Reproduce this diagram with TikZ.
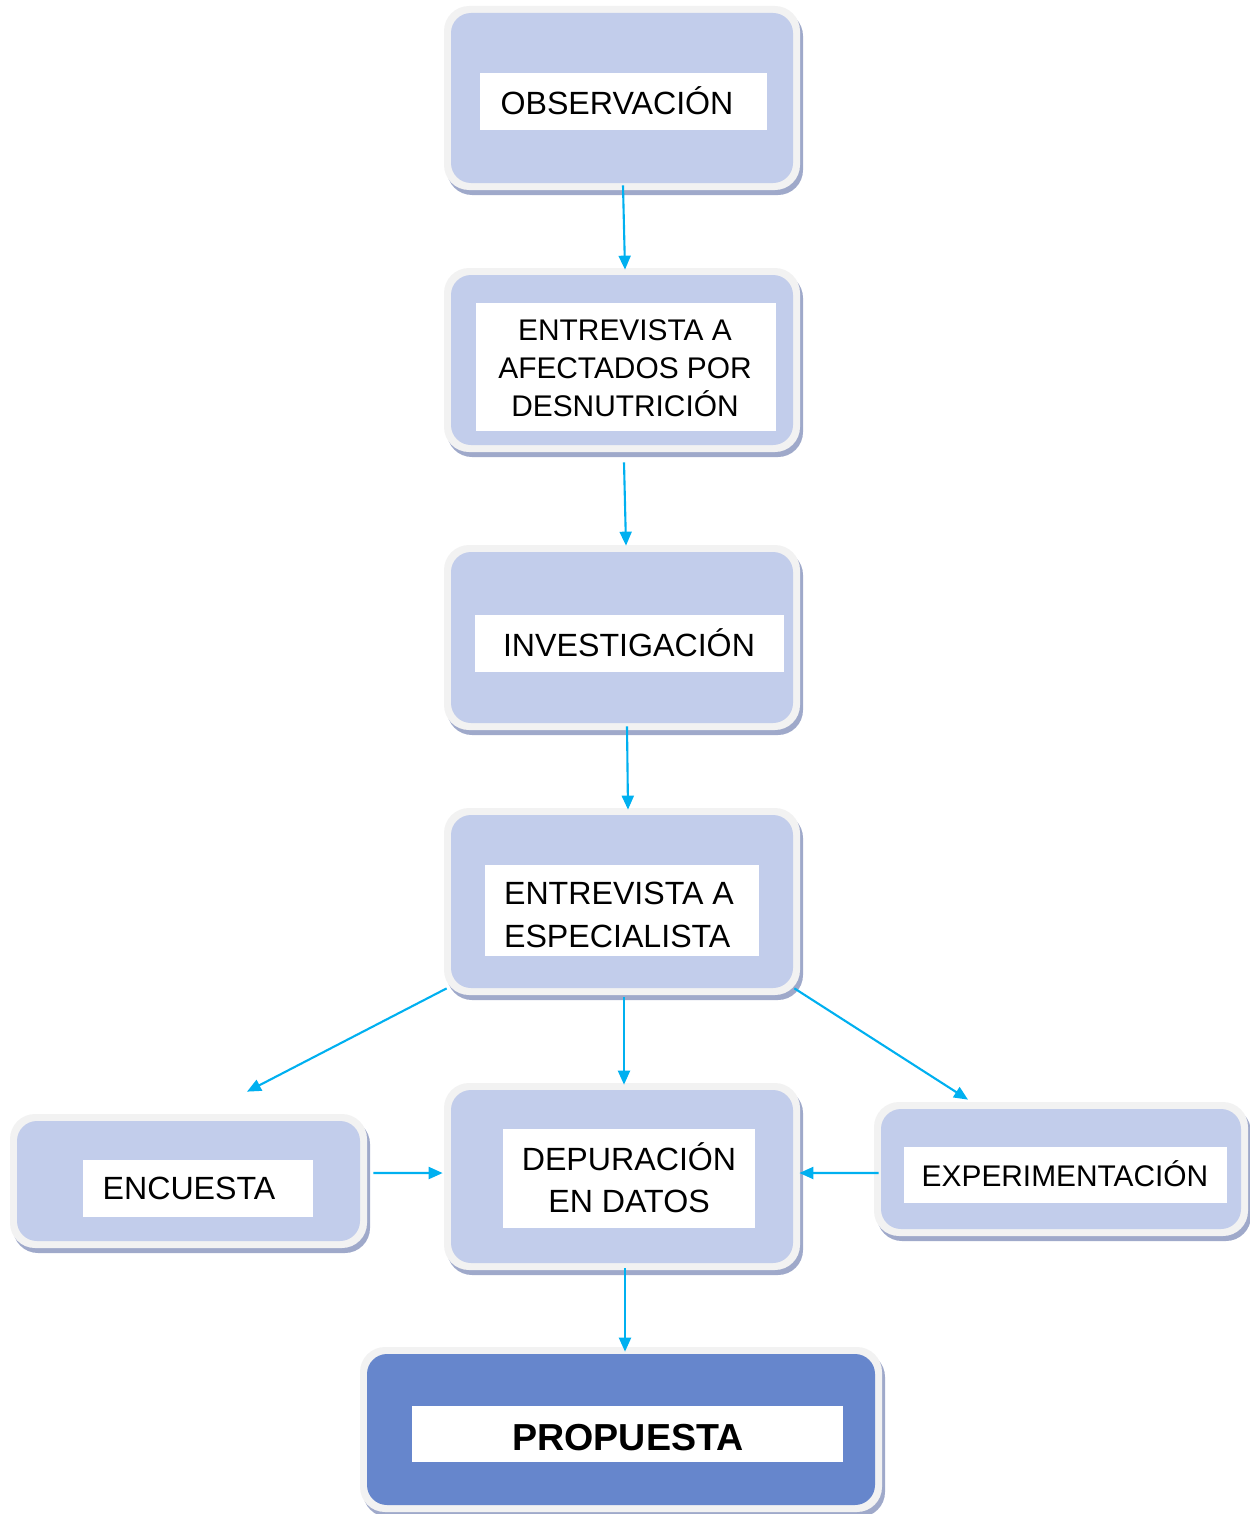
\documentclass[tikz,border=0pt]{standalone}
\usepackage{fontspec}
\setmainfont{Liberation Sans}
\usetikzlibrary{fit,arrows.meta}
\definecolor{innerc}{HTML}{C2CDEB}
\definecolor{outerc}{HTML}{F2F2F2}
\definecolor{shadowc}{HTML}{9FA9CA}
\definecolor{darkc}{HTML}{6686CC}
\definecolor{arrc}{HTML}{00B0F0}
\tikzset{
  arr/.style={draw=arrc, line width=1.2pt, -{Triangle[length=0.28cm,width=0.24cm]}},
  whitebox/.style={fill=white, inner sep=0pt},
  lbl/.style={font=\fontsize{18.3}{22}\selectfont, inner sep=0pt, align=center},
}
\newcommand{\mybox}[6]{%
  \fill[shadowc, rounded corners=0.5cm] (#2+3,#3+5) rectangle (#4+3,#5+5);
  \fill[outerc, rounded corners=0.5cm] (#2,#3) rectangle (#4,#5);
  \fill[#6, rounded corners=0.4cm] (#2+7,#3+7) rectangle (#4-7,#5-7);
  \node[fit={(#2,#3) (#4,#5)}, inner sep=0pt] (#1) {};
}
\begin{document}
\begin{tikzpicture}[x=0.02cm,y=-0.02cm]
\useasboundingbox (0,0) rectangle (1249,1514);
% boxes
\mybox{b1}{444}{6}{800}{190}{innerc}
\mybox{b2}{444}{268}{800}{452}{innerc}
\mybox{b3}{444}{545}{800}{730}{innerc}
\mybox{b4}{444}{808}{800}{995}{innerc}
\mybox{b5}{444}{1083}{800}{1270}{innerc}
\mybox{b6}{10}{1114}{367}{1248}{innerc}
\mybox{b7}{874}{1102}{1248}{1236}{innerc}
\mybox{b8}{360}{1347}{882}{1512}{darkc}
% white label boxes
\node[whitebox, minimum width=287*0.02cm, minimum height=57*0.02cm] (w1) at (623.5,101.5) {};
\node[whitebox, minimum width=300*0.02cm, minimum height=128*0.02cm] (w2) at (626,367) {};
\node[whitebox, minimum width=309*0.02cm, minimum height=57*0.02cm] (w3) at (629.5,643.5) {};
\node[whitebox, minimum width=274*0.02cm, minimum height=91*0.02cm] (w4) at (622,910.5) {};
\node[whitebox, minimum width=252*0.02cm, minimum height=99*0.02cm] (w5) at (629,1178.5) {};
\node[whitebox, minimum width=230*0.02cm, minimum height=57*0.02cm] (w6) at (198,1188.5) {};
\node[whitebox, minimum width=323*0.02cm, minimum height=56*0.02cm] (w7) at (1065.5,1175) {};
\node[whitebox, minimum width=431*0.02cm, minimum height=56*0.02cm] (w8) at (627.5,1434) {};
% texts
\node[lbl] (t1) at (617,101) {OBSERVACIÓN};
\node[lbl, font=\fontsize{17}{21.6}\selectfont] (t2) at (625,368) {ENTREVISTA A\\AFECTADOS POR\\DESNUTRICIÓN};
\node[lbl] (t3) at (629,643) {INVESTIGACIÓN};
\node[lbl, align=left, font=\fontsize{18.3}{24}\selectfont] (t4) at (619,915) {ENTREVISTA A\\ESPECIALISTA};
\node[lbl, font=\fontsize{18.3}{24}\selectfont] (t5) at (629,1178) {DEPURACIÓN\\EN DATOS};
\node[lbl] (t6) at (189,1188) {ENCUESTA};
\node[lbl, font=\fontsize{17}{21}\selectfont] (t7) at (1065,1174) {EXPERIMENTACIÓN};
\node[lbl, font=\bfseries\fontsize{21.4}{25}\selectfont] (t8) at (628,1438) {PROPUESTA};
% arrows
\draw[arr] ([shift={(1,-5)}]b1.south) -- ([shift={(3,2)}]b2.north);
\draw[arr] ([shift={(2,10)}]b2.south) -- ([shift={(4,1)}]b3.north);
\draw[arr] ([shift={(5,-4)}]b3.south) -- ([shift={(6,2)}]b4.north);
\draw[arr] ([shift={(3,-7)}]b4.south west) -- ([shift={(58.5,-22)}]b6.north);
\draw[arr] ([shift={(2,2)}]b4.south) -- ([shift={(2,2)}]b5.north);
\draw[arr] ([shift={(-6,-7)}]b4.south east) -- ([shift={(-93,-2)}]b7.north);
\draw[arr] ([shift={(6,-8)}]b6.east) -- ([shift={(-1,-3.5)}]b5.west);
\draw[arr] ([shift={(5,4)}]b7.west) -- ([shift={(-1,-3.5)}]b5.east);
\draw[arr] ([shift={(3,-2)}]b5.south) -- ([shift={(4,5)}]b8.north);
\end{tikzpicture}
\end{document}
